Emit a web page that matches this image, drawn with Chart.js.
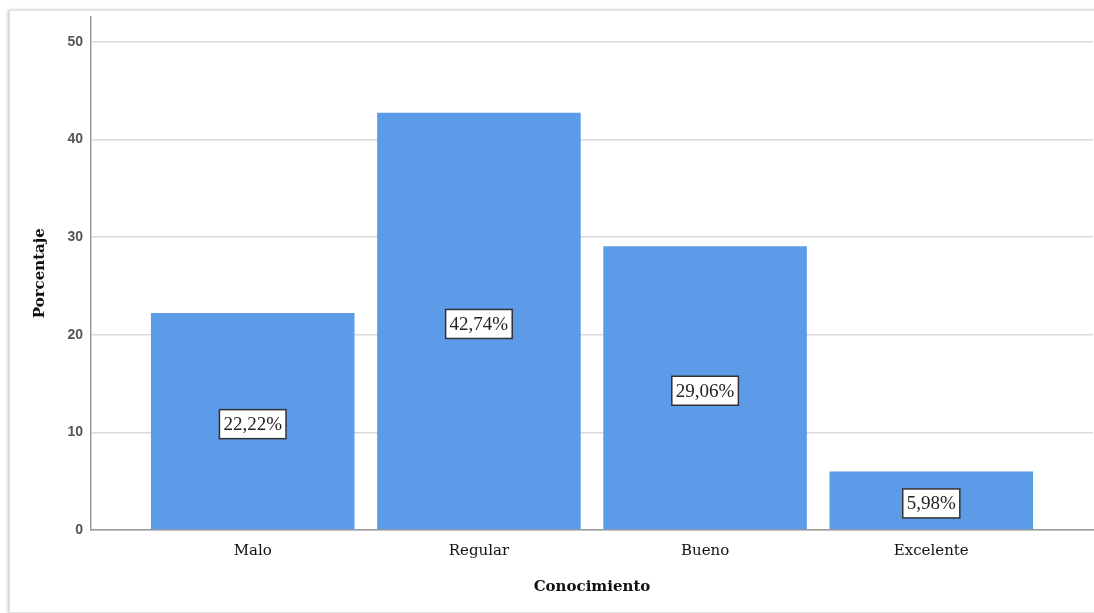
<!DOCTYPE html>
<html>
<head>
<meta charset="utf-8">
<script src="https://cdn.jsdelivr.net/npm/chart.js@4.4.1/dist/chart.umd.min.js"></script>
<style>
  html,body{margin:0;padding:0;background:#fff;}
  #wrap{position:relative;width:1094px;height:613px;overflow:hidden;}
  #frame{position:absolute;left:9px;top:10px;width:1100px;height:601px;border:1px solid #e2e2e2;box-shadow:-1px 0 3px rgba(0,0,0,0.25);}
  canvas{position:absolute;left:0;top:0;}
</style>
</head>
<body>
<div id="wrap">
  <div id="frame"></div>
  <canvas id="c" width="1094" height="613"></canvas>
</div>
<script>
const categories = ["Malo", "Regular", "Bueno", "Excelente"];
const percentages = [22.22, 42.74, 29.06, 5.98];
const valueLabels = ["22,22%", "42,74%", "29,06%", "5,98%"];
const yTicks = [0, 10, 20, 30, 40, 50];

const serif = '"DejaVu Serif", "Liberation Serif", serif';

const boxLabels = {
  id: 'boxLabels',
  afterDatasetsDraw(chart) {
    const ctx = chart.ctx;
    const meta = chart.getDatasetMeta(0);
    ctx.save();
    ctx.font = '19px "Liberation Serif", "Times New Roman", serif';
    ctx.textAlign = 'center';
    ctx.textBaseline = 'middle';
    meta.data.forEach((bar, i) => {
      const txt = valueLabels[i];
      const w = ctx.measureText(txt).width + 8;
      const h = 29;
      const cx = bar.x;
      const cy = (bar.y + bar.base) / 2 + 3;
      ctx.fillStyle = '#ffffff';
      ctx.fillRect(cx - w / 2, cy - h / 2, w, h);
      ctx.lineWidth = 1.5;
      ctx.strokeStyle = '#333333';
      ctx.strokeRect(cx - w / 2, cy - h / 2, w, h);
      ctx.fillStyle = '#222222';
      ctx.fillText(txt, cx, cy + 1);
    });
    ctx.restore();
  }
};

new Chart(document.getElementById('c'), {
  type: 'bar',
  data: {
    datasets: [{
      data: percentages.map((v, i) => ({ x: i, y: v })),
      backgroundColor: '#5b9be8',
      borderWidth: 0,
      categoryPercentage: 1,
      barPercentage: 0.9
    }]
  },
  options: {
    responsive: false,
    animation: false,
    layout: { padding: { top: 15, right: 1, left: 0, bottom: 0 } },
    plugins: { legend: { display: false }, tooltip: { enabled: false } },
    scales: {
      x: {
        type: 'linear',
        offset: false,
        min: -0.715,
        max: 3.715,
        afterBuildTicks: (s) => { s.ticks = categories.map((c, i) => ({ value: i })); },
        afterFit: (s) => { s.height = 83; },
        grid: { display: false, drawTicks: false },
        border: { display: true, color: '#9a9a9a', width: 1.5 },
        ticks: {
          callback: (v) => categories[v],
          color: '#111',
          font: { family: serif, size: 15 },
          padding: 12,
          maxRotation: 0,
          autoSkip: false
        },
        title: {
          display: true,
          text: 'Conocimiento',
          color: '#111',
          font: { family: serif, size: 15, weight: 'bold' },
          padding: { top: 0, bottom: 17 }
        }
      },
      y: {
        min: 0,
        max: 52.6,
        afterBuildTicks: (s) => { s.ticks = yTicks.map(v => ({ value: v })); },
        afterFit: (s) => { s.width = 91; },
        grid: { color: '#dadada', lineWidth: 1.5, drawTicks: false },
        border: { display: true, color: '#9a9a9a', width: 1.5 },
        ticks: {
          color: '#555',
          font: { family: '"Liberation Sans", Arial, sans-serif', size: 14, weight: 'bold' },
          padding: 8
        },
        title: {
          display: true,
          text: 'Porcentaje',
          color: '#111',
          font: { family: serif, size: 15, weight: 'bold' },
          padding: { top: 31, bottom: 0 }
        }
      }
    }
  },
  plugins: [boxLabels]
});
</script>
</body>
</html>
